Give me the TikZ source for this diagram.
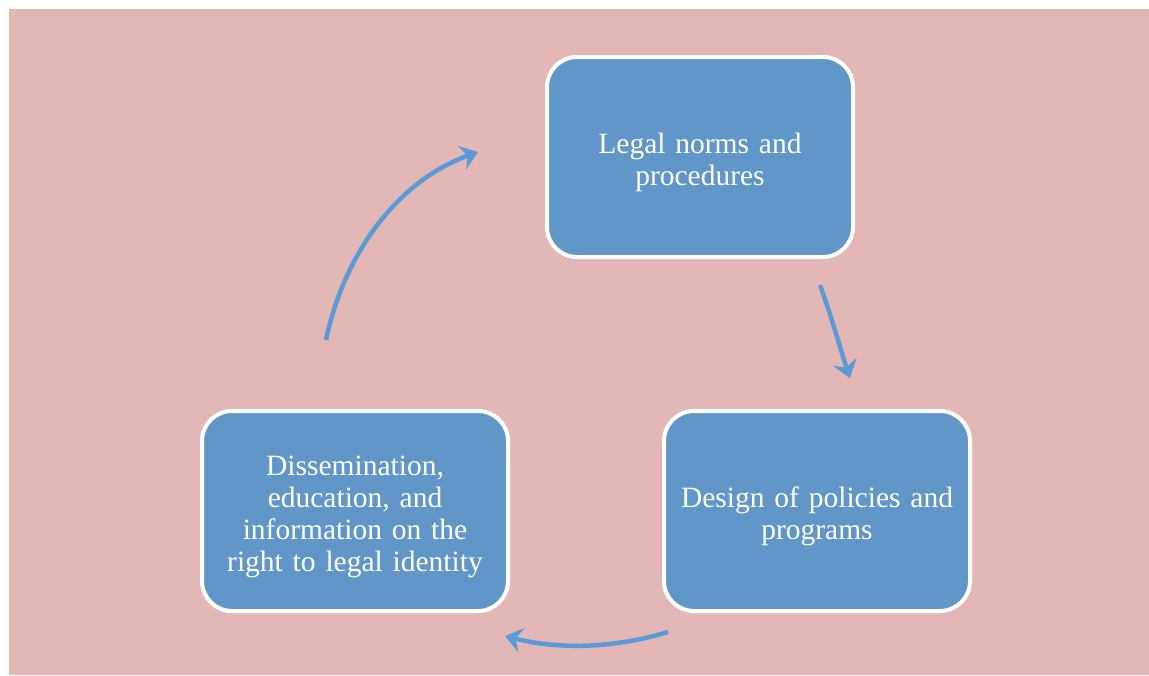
\documentclass[tikz,border=0pt]{standalone}
\usepackage{fontspec}
\setmainfont{Liberation Serif}
\usetikzlibrary{arrows.meta}
\definecolor{bgpink}{HTML}{E4B7B7}
\definecolor{boxblue}{HTML}{6196C8}
\definecolor{arrblue}{HTML}{5B9BD5}
\tikzset{
  stagebox/.style={draw=white,line width=4pt,fill=boxblue,rounded corners=30pt,
    minimum width=306pt,minimum height=200pt,text width=290pt,align=center,
    text=white,font=\fontsize{29.5}{32}\selectfont,
    execute at begin node={\rule{0pt}{32pt}}},
  cycarrow/.style={arrblue,line width=4.5pt,-{Stealth[length=17pt,width=25pt,inset=6pt]}}
}
\begin{document}
\begin{tikzpicture}[x=1pt,y=-1pt]
  \useasboundingbox (0,0) rectangle (1149,675);
  \fill[bgpink] (9,9) rectangle (1149,675);

  \node[stagebox] (legal) at (700,157) {Legal norms and\\procedures};
  \node[stagebox] (design) at (817,511) {Design of policies and\\programs};
  \node[stagebox] (dissem) at (355,511) {Dissemination,\\education, and\\information on the\\right to legal identity};

  \coordinate (a1s) at (326,340); \coordinate (a1e) at (478,152);
  \coordinate (a2s) at (820,285); \coordinate (a2e) at (850,378);
  \coordinate (a3s) at (668,632); \coordinate (a3e) at (505,636);

  \draw[cycarrow] (a1s) .. controls (345,250) and (400,180) .. (a1e);
  \draw[cycarrow] (a2s) .. controls (832,318) and (840,348) .. (a2e);
  \draw[cycarrow] (a3s) .. controls (615,648) and (560,650) .. (a3e);
\end{tikzpicture}
\end{document}
